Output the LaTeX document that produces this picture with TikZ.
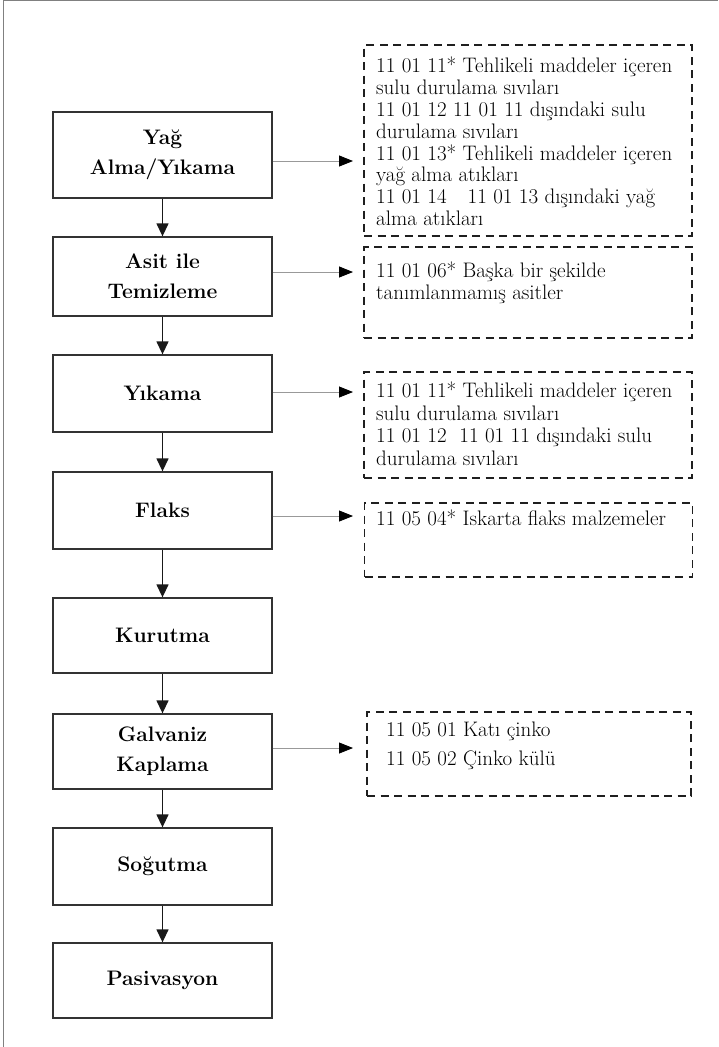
\documentclass[tikz,border=0pt]{standalone}
\usepackage{fontspec}
\usetikzlibrary{arrows.meta}

\tikzset{
  stage/.style={draw=black!80, line width=1.3pt, minimum width=219pt, minimum height=77pt, inner sep=0pt, align=center, font=\fontsize{21}{30}\selectfont\bfseries},
  waste/.style={draw=black!88, line width=1.8pt, dash pattern=on 8pt off 5.5pt, minimum width=328pt, inner sep=0pt},
  wastetext/.style={anchor=north west, inner sep=0pt, align=left, font=\fontsize{21}{21.8}\selectfont},
  flow/.style={black!90, line width=1.3pt, -{Triangle[length=13pt,width=12pt]}},
  link/.style={black!40, line width=0.8pt, -{Triangle[length=14pt,width=11pt,color=black]}}
}

\begin{document}
\begin{tikzpicture}[x=1pt,y=-1pt]
\useasboundingbox (0,0) rectangle (718,1047);
\draw[black!50, line width=1pt] (3,1047) -- (3,0.5) -- (718,0.5);
\node[stage, minimum height=86pt] (p1) at (162.5,155) {Yağ\\Alma/Yıkama};
\node[stage, minimum height=79pt] (p2) at (162.5,276.5) {Asit ile\\Temizleme};
\node[stage] (p3) at (162.5,393.5) {Yıkama};
\node[stage] (p4) at (162.5,510.5) {Flaks};
\node[stage, minimum height=75pt] (p5) at (162.5,635.5) {Kurutma};
\node[stage, minimum height=75pt] (p6) at (162.5,751.5) {Galvaniz\\Kaplama};
\node[stage] (p7) at (162.5,866.5) {Soğutma};
\node[stage, minimum height=75pt] (p8) at (162.5,980.5) {Pasivasyon};
\draw[flow] (p1) -- (p2);
\draw[flow] (p2) -- (p3);
\draw[flow] (p3) -- (p4);
\draw[flow] (p4) -- (p5);
\draw[flow] (p5) -- (p6);
\draw[flow] (p6) -- (p7);
\draw[flow] (p7) -- (p8);
\node[waste, minimum height=191pt] (w1) at (528,140.5) {};
\node[waste, minimum height=91pt] (w2) at (528,292.5) {};
\node[waste, minimum height=106pt] (w3) at (528,425) {};
\node[waste, minimum height=74pt] (w4) at (528.5,540) {};
\node[waste, minimum width=324pt, minimum height=84pt] (w5) at (529,754) {};
\node[wastetext] (t1) at (376,57) {11 01 11* Tehlikeli maddeler içeren\\sulu durulama sıvıları\\11 01 12 11 01 11 dışındaki sulu\\durulama sıvıları\\11 01 13* Tehlikeli maddeler içeren\\yağ alma atıkları\\11 01 14\quad 11 01 13 dışındaki yağ\\alma atıkları};
\node[wastetext] (t2) at (376,262) {11 01 06* Başka bir şekilde\\tanımlanmamış asitler};
\node[wastetext, font=\fontsize{21}{22.4}\selectfont] (t3) at (376,382) {11 01 11* Tehlikeli maddeler içeren\\sulu durulama sıvıları\\11 01 12\ \ 11 01 11 dışındaki sulu\\durulama sıvıları};
\node[wastetext] (t4) at (376,510) {11 05 04* Iskarta flaks malzemeler};
\node[wastetext, font=\fontsize{21}{29}\selectfont] (t5) at (386,722) {11 05 01 Katı çinko\\11 05 02 Çinko külü};
\coordinate (a1) at (353,161);
\coordinate (a2) at (353,272);
\coordinate (a3) at (353,392);
\coordinate (a4) at (353,516);
\coordinate (a5) at (353,748);
\draw[link] (p1.east |- a1) -- (a1);
\draw[link] (p2.east |- a2) -- (a2);
\draw[link] (p3.east |- a3) -- (a3);
\draw[link] (p4.east |- a4) -- (a4);
\draw[link] (p6.east |- a5) -- (a5);
\end{tikzpicture}
\end{document}
